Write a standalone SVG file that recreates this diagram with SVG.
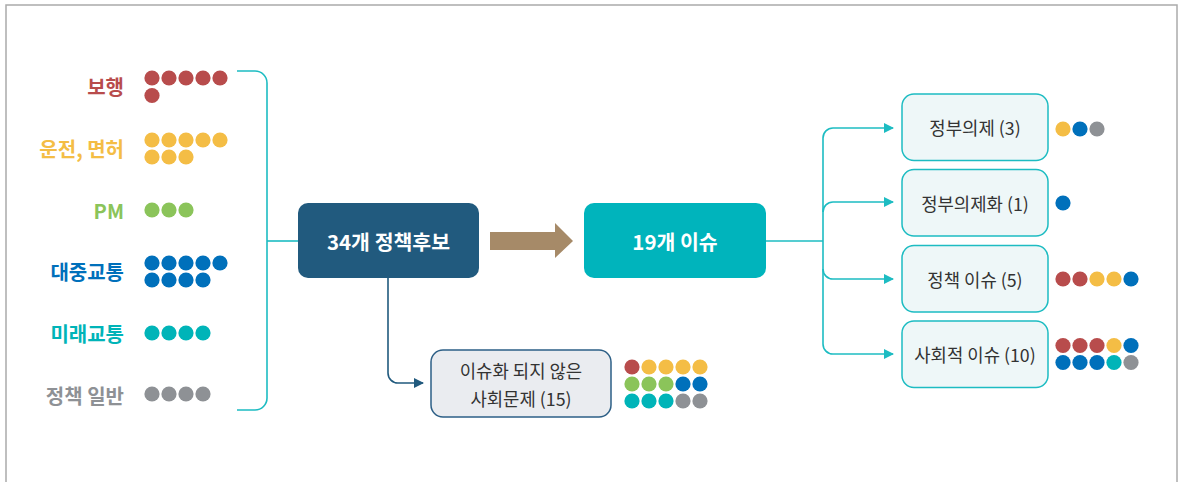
<svg xmlns="http://www.w3.org/2000/svg" width="1178" height="482" viewBox="0 0 1178 482">
<defs>
<style>
.lbl{font-family:"Noto Sans CJK KR","Noto Sans",sans-serif;font-size:20px;font-weight:700;text-anchor:end;dominant-baseline:central}
.btxt{font-family:"Noto Sans CJK KR","Noto Sans",sans-serif;font-size:20.5px;font-weight:700;fill:#fff;text-anchor:middle;dominant-baseline:central}
.ntxt{font-family:"Noto Sans CJK KR","Noto Sans",sans-serif;font-size:17.8px;font-weight:400;fill:#333;text-anchor:middle;dominant-baseline:central}
.rbox{fill:#eef7f8;stroke:#1dbcc2;stroke-width:1.5}
.tc{fill:none;stroke:#1dbcc2;stroke-width:1.6}
.dc{fill:none;stroke:#215a7e;stroke-width:1.6}
.r{fill:#b84c4c}.y{fill:#f4bd45}.g{fill:#8bc45a}.b{fill:#0070bb}.t{fill:#00b4b8}.k{fill:#8e9195}
</style>
<marker id="mt" viewBox="0 0 10 10" refX="9" refY="5" markerWidth="10" markerHeight="10" markerUnits="userSpaceOnUse" orient="auto"><path d="M0,0 L10,5 L0,10 Z" fill="#1dbcc2"/></marker>
<marker id="md" viewBox="0 0 10 10" refX="9" refY="5" markerWidth="10" markerHeight="10" markerUnits="userSpaceOnUse" orient="auto"><path d="M0,0 L10,5 L0,10 Z" fill="#215a7e"/></marker>
</defs>
<rect x="0" y="0" width="1178" height="482" fill="#fff"/>
<rect x="6" y="5" width="1171" height="500" fill="none" stroke="#ababab" stroke-width="1.5"/>

<g id="connectors">
<path class="tc" d="M237,71 H255 A12,12 0 0 1 267,83 V398 A12,12 0 0 1 255,410 H237"/>
<path class="tc" d="M267,241 H298"/>
<path class="tc" d="M766,241 H823"/>
<path class="tc" d="M833,128 A10,10 0 0 0 823,138 V344 A10,10 0 0 0 833,354"/>
<path class="tc" d="M833,128 H893" marker-end="url(#mt)"/>
<path class="tc" d="M823,212 A10,10 0 0 1 833,202 H893" marker-end="url(#mt)"/>
<path class="tc" d="M823,269 A10,10 0 0 0 833,279 H893" marker-end="url(#mt)"/>
<path class="tc" d="M833,354 H893" marker-end="url(#mt)"/>
<path class="dc" d="M388,278 V373 A10,10 0 0 0 398,383 H423" marker-end="url(#md)"/>
<path d="M490,232 H555 V223 L573,241 L555,258 V250 H490 Z" fill="#a68a68"/>
</g>

<g id="legend">
<text class="lbl" x="124" y="86" fill="#b84c4c">보행</text>
<g><circle class="r" cx="152" cy="78" r="7.6"/><circle class="r" cx="169" cy="78" r="7.6"/><circle class="r" cx="186" cy="78" r="7.6"/><circle class="r" cx="203" cy="78" r="7.6"/><circle class="r" cx="220" cy="78" r="7.6"/><circle class="r" cx="152" cy="95.5" r="7.6"/></g>
<text class="lbl" x="124" y="148" fill="#f4bd45">운전, 면허</text>
<g><circle class="y" cx="152" cy="140" r="7.6"/><circle class="y" cx="169" cy="140" r="7.6"/><circle class="y" cx="186" cy="140" r="7.6"/><circle class="y" cx="203" cy="140" r="7.6"/><circle class="y" cx="220" cy="140" r="7.6"/><circle class="y" cx="152" cy="157" r="7.6"/><circle class="y" cx="169" cy="157" r="7.6"/><circle class="y" cx="186" cy="157" r="7.6"/></g>
<text class="lbl" x="124" y="210" fill="#8bc45a">PM</text>
<g><circle class="g" cx="152" cy="210" r="7.6"/><circle class="g" cx="169" cy="210" r="7.6"/><circle class="g" cx="186" cy="210" r="7.6"/></g>
<text class="lbl" x="124" y="271" fill="#0070bb">대중교통</text>
<g><circle class="b" cx="152" cy="263" r="7.6"/><circle class="b" cx="169" cy="263" r="7.6"/><circle class="b" cx="186" cy="263" r="7.6"/><circle class="b" cx="203" cy="263" r="7.6"/><circle class="b" cx="220" cy="263" r="7.6"/><circle class="b" cx="152" cy="280" r="7.6"/><circle class="b" cx="169" cy="280" r="7.6"/><circle class="b" cx="186" cy="280" r="7.6"/><circle class="b" cx="203" cy="280" r="7.6"/></g>
<text class="lbl" x="124" y="333" fill="#00b4b8">미래교통</text>
<g><circle class="t" cx="152" cy="333" r="7.6"/><circle class="t" cx="169" cy="333" r="7.6"/><circle class="t" cx="186" cy="333" r="7.6"/><circle class="t" cx="203" cy="333" r="7.6"/></g>
<text class="lbl" x="124" y="395" fill="#8e9195">정책 일반</text>
<g><circle class="k" cx="152" cy="394" r="7.6"/><circle class="k" cx="169" cy="394" r="7.6"/><circle class="k" cx="186" cy="394" r="7.6"/><circle class="k" cx="203" cy="394" r="7.6"/></g>
</g>

<g id="node-candidates">
<rect x="298" y="203" width="181" height="75" rx="10" fill="#215a7e"/>
<text class="btxt" x="388.5" y="241">34개 정책후보</text>
</g>
<g id="node-issues">
<rect x="584" y="203" width="182" height="75" rx="10" fill="#00b4bc"/>
<text class="btxt" x="675" y="241">19개 이슈</text>
</g>
<g id="node-nonissue">
<rect x="431" y="350" width="180" height="67" rx="12" fill="#eaecf0" stroke="#2d5f86" stroke-width="1.5"/>
<text class="ntxt" x="521" y="370">이슈화 되지 않은</text>
<text class="ntxt" x="521" y="398">사회문제 (15)</text>
<g><circle class="r" cx="632" cy="367" r="7.6"/><circle class="y" cx="649" cy="367" r="7.6"/><circle class="y" cx="666" cy="367" r="7.6"/><circle class="y" cx="683" cy="367" r="7.6"/><circle class="y" cx="700" cy="367" r="7.6"/>
<circle class="g" cx="632" cy="384" r="7.6"/><circle class="g" cx="649" cy="384" r="7.6"/><circle class="g" cx="666" cy="384" r="7.6"/><circle class="b" cx="683" cy="384" r="7.6"/><circle class="b" cx="700" cy="384" r="7.6"/>
<circle class="t" cx="632" cy="401" r="7.6"/><circle class="t" cx="649" cy="401" r="7.6"/><circle class="t" cx="666" cy="401" r="7.6"/><circle class="k" cx="683" cy="401" r="7.6"/><circle class="k" cx="700" cy="401" r="7.6"/></g>
</g>

<g id="node-gov-agenda">
<rect class="rbox" x="902" y="94" width="146" height="66.5" rx="12"/>
<text class="ntxt" x="975" y="127">정부의제 (3)</text>
<circle class="y" cx="1063" cy="129" r="7.6"/><circle class="b" cx="1080" cy="129" r="7.6"/><circle class="k" cx="1097" cy="129" r="7.6"/>
</g>
<g id="node-gov-agendizing">
<rect class="rbox" x="902" y="169.5" width="146" height="66.5" rx="12"/>
<text class="ntxt" x="975" y="203">정부의제화 (1)</text>
<circle class="b" cx="1063" cy="203" r="7.6"/>
</g>
<g id="node-policy-issue">
<rect class="rbox" x="902" y="245.5" width="146" height="66.5" rx="12"/>
<text class="ntxt" x="975" y="279">정책 이슈 (5)</text>
<circle class="r" cx="1063" cy="279" r="7.6"/><circle class="r" cx="1080" cy="279" r="7.6"/><circle class="y" cx="1097" cy="279" r="7.6"/><circle class="y" cx="1114" cy="279" r="7.6"/><circle class="b" cx="1131" cy="279" r="7.6"/>
</g>
<g id="node-social-issue">
<rect class="rbox" x="902" y="321" width="146" height="66.5" rx="12"/>
<text class="ntxt" x="975" y="354">사회적 이슈 (10)</text>
<circle class="r" cx="1063" cy="345.5" r="7.6"/><circle class="r" cx="1080" cy="345.5" r="7.6"/><circle class="r" cx="1097" cy="345.5" r="7.6"/><circle class="y" cx="1114" cy="345.5" r="7.6"/><circle class="b" cx="1131" cy="345.5" r="7.6"/>
<circle class="b" cx="1063" cy="362.5" r="7.6"/><circle class="b" cx="1080" cy="362.5" r="7.6"/><circle class="b" cx="1097" cy="362.5" r="7.6"/><circle class="t" cx="1114" cy="362.5" r="7.6"/><circle class="k" cx="1131" cy="362.5" r="7.6"/>
</g>
</svg>
